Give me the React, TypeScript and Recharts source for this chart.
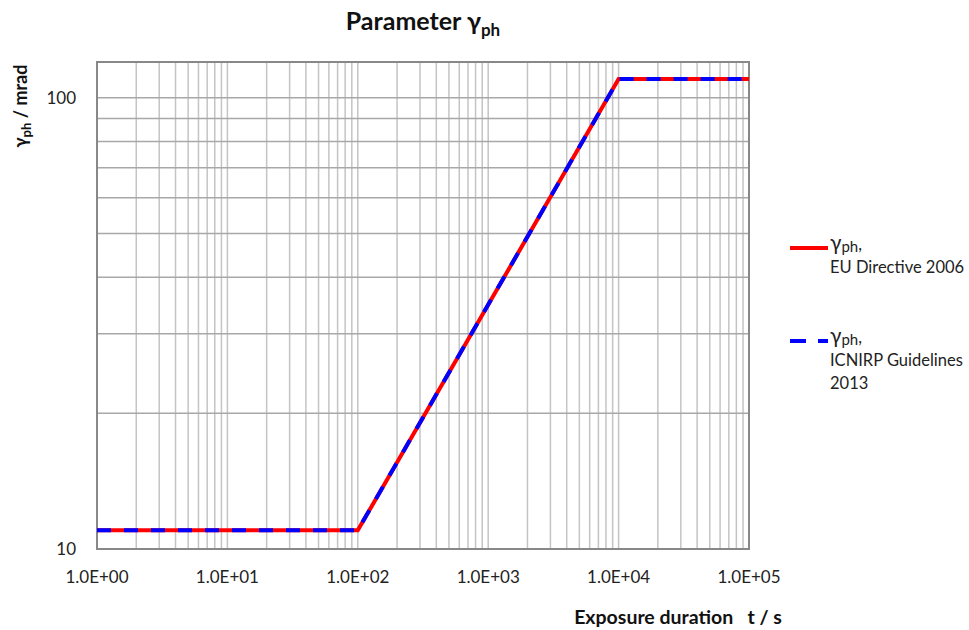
import { LineChart, Line, XAxis, YAxis, CartesianGrid, ReferenceArea, Legend } from "recharts";

// exposure duration t / s at the break points of the curve
const exposureTimes = [1, 100, 10000, 100000];
// gamma_ph / mrad
const euDirective2006 = [11, 11, 110, 110];
const icnirpGuidelines2013 = [11, 11, 110, 110];

const decadeTicks = [1, 10, 100, 1000, 10000, 100000];
const decadeLabels = ["1.0E+00", "1.0E+01", "1.0E+02", "1.0E+03", "1.0E+04", "1.0E+05"];
const yLabelTicks = [10, 100];
const yGridTicks = [10, 20, 30, 40, 50, 60, 70, 80, 90, 100];
const minorSteps = [1, 2, 3, 4, 5, 6, 7, 8, 9];
const xGridTicks = decadeTicks
  .slice(0, -1)
  .flatMap((d) => minorSteps.map((m) => m * d))
  .concat([100000]);

const data = exposureTimes.map((t, i) => ({
  t,
  eu: euDirective2006[i],
  icnirp: icnirpGuidelines2013[i],
}));

const FONT = "Lato, 'Open Sans', sans-serif";

function XTick(props: any) {
  const { x, y, payload } = props;
  const idx = decadeTicks.indexOf(payload.value);
  if (idx < 0) return <g />;
  return (
    <text x={x} y={y + 32} textAnchor="middle" fontSize={17} fill="#222" fontFamily={FONT}>
      {decadeLabels[idx]}
    </text>
  );
}

function YTick(props: any) {
  const { x, y, payload } = props;
  if (!yLabelTicks.includes(payload.value)) return <g />;
  return (
    <text x={x - 19} y={y + 6} textAnchor="end" fontSize={17} fill="#222" fontFamily={FONT}>
      {payload.value}
    </text>
  );
}

function LegendBox() {
  const items = [
    { color: "#ff0000", dash: undefined, lines: ["EU Directive 2006"] },
    { color: "#0000ff", dash: "16 12", lines: ["ICNIRP Guidelines", "2013"] },
  ];
  return (
    <div style={{ fontFamily: FONT, color: "#222", fontSize: 16.5, whiteSpace: "nowrap" }}>
      {items.map((it, i) => (
        <div key={i} style={{ position: "relative", height: 93 }}>
          <svg width={40} height={8} style={{ position: "absolute", left: 0, top: 9 }}>
            <line x1={0} y1={4} x2={38} y2={4} stroke={it.color} strokeWidth={4} strokeDasharray={it.dash} />
          </svg>
          <div style={{ position: "absolute", left: 40, top: -3, lineHeight: "23px" }}>
            <div style={{ height: 24, lineHeight: "20px" }}>
              <span style={{ fontSize: 21 }}>γ</span>
              <span style={{ fontSize: 15, position: "relative", top: 2 }}>ph</span>,
            </div>
            {it.lines.map((l, j) => (
              <div key={j}>{l}</div>
            ))}
          </div>
        </div>
      ))}
    </div>
  );
}

export default function App() {
  return (
    <div style={{ position: "absolute", left: 0, top: 0, width: 969, height: 630, background: "#fff" }}>
      <div
        style={{
          position: "absolute",
          left: 97,
          width: 652,
          top: 5,
          textAlign: "center",
          fontFamily: FONT,
          fontWeight: 700,
          fontSize: 25,
          color: "#111",
        }}
      >
        Parameter γ<span style={{ fontSize: 17, position: "relative", top: 6 }}>ph</span>
      </div>
      <LineChart width={969} height={630} data={data} margin={{ top: 62, right: 220, bottom: 0, left: 0 }}>
        <CartesianGrid horizontal={false} stroke="#c4c4c4" strokeWidth={1.5} />
        <CartesianGrid vertical={false} stroke="#a8a8a8" strokeWidth={1.5} />
        <XAxis
          dataKey="t"
          type="number"
          scale="log"
          domain={[1, 100000]}
          allowDataOverflow
          ticks={xGridTicks}
          interval={0}
          tick={<XTick />}
          tickLine={false}
          tickSize={0}
          axisLine={false}
          height={81}
          label={{
            content: () => (
              <text x={678} y={624} textAnchor="middle" fontSize={19.5} fontWeight={700} fill="#111" fontFamily={FONT} xmlSpace="preserve">
                Exposure duration   t / s
              </text>
            ),
          }}
        />
        <YAxis
          type="number"
          scale="log"
          domain={[10, 120]}
          allowDataOverflow
          ticks={yGridTicks}
          interval={0}
          tick={<YTick />}
          tickLine={false}
          tickSize={0}
          axisLine={false}
          width={97}
          label={{
            content: () => (
              <text transform="translate(27,106) rotate(-90)" textAnchor="middle" fontSize={18} fontWeight={700} fill="#111" fontFamily={FONT}>
                γ<tspan dy={4} fontSize={13}>ph</tspan>
                <tspan dy={-4}> / mrad</tspan>
              </text>
            ),
          }}
        />
        <ReferenceArea x1={1} x2={100000} y1={10} y2={120} fill="none" stroke="#888" strokeWidth={2} ifOverflow="visible" />
        <Line type="linear" dataKey="eu" stroke="#ff0000" strokeWidth={4} dot={false} isAnimationActive={false} />
        <Line
          type="linear"
          dataKey="icnirp"
          stroke="#0000ff"
          strokeWidth={4}
          strokeDasharray="14 13"
          dot={false}
          isAnimationActive={false}
        />
        <Legend
          layout="vertical"
          align="center"
          verticalAlign="middle"
          wrapperStyle={{ left: 790, top: 235, width: 179 }}
          content={() => <LegendBox />}
        />
      </LineChart>
    </div>
  );
}
